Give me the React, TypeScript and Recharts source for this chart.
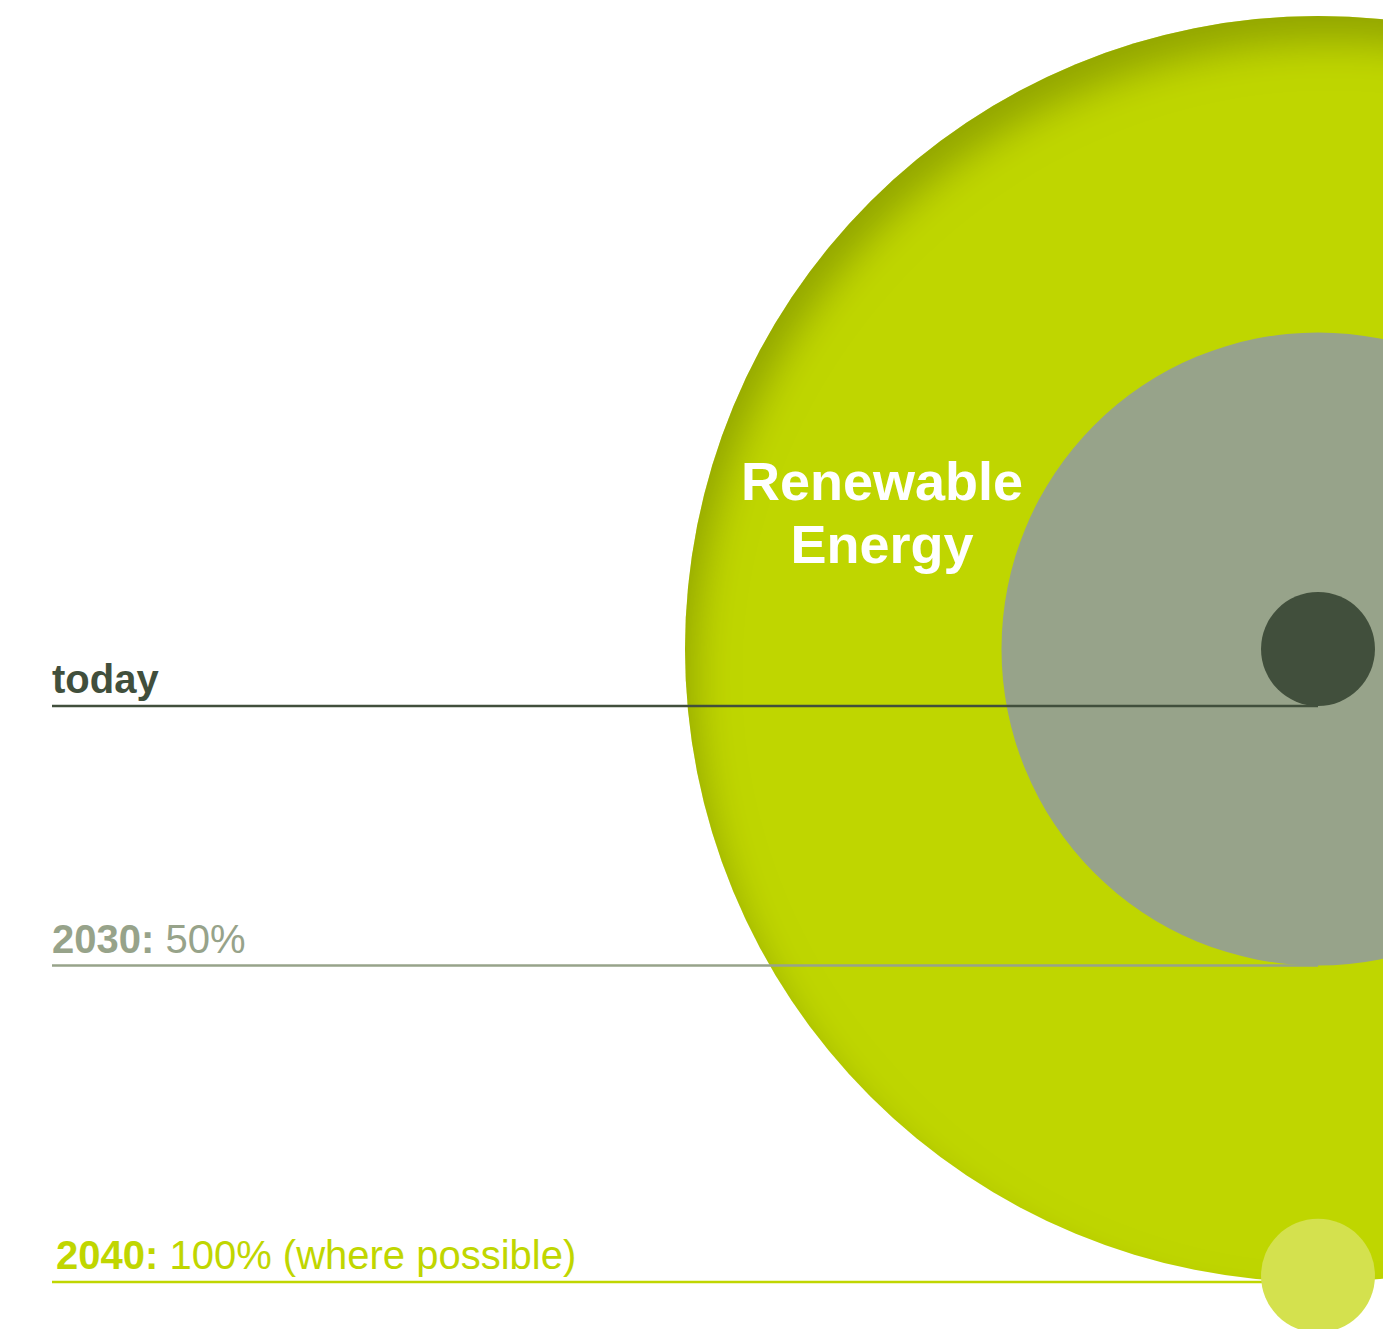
import React from 'react';
import { ComposedChart, Scatter, Line, XAxis, YAxis, ZAxis, LabelList } from 'recharts';

// ---- data ----
const milestones = ['today', '2030', '2040'];
const milestoneBold = ['today', '2030:', '2040:'];
const milestoneRest = ['', ' 50%', ' 100% (where possible)'];
const milestoneShare = [9, 50, 100]; // renewable share (radius of circle, %)
const lineStart = -200; // left end of milestone lines (same units)

const ringNames = ['2040', '2030', 'today'];
const ringShare = [100, 50, 9];
const markerShare = 9;       // small light disc at the 2040 level
const markerLevel = 99;

const titleLines = ['Renewable', 'Energy'];

// ---- styles ----
const FONT = 'Liberation Sans, Arial, Helvetica, sans-serif';
const ringColors = ['#bfd600', '#97a38a', '#414f3c'];
const lineColors = ['#414f3c', '#97a38a', '#c0d600'];
const markerColor = '#d4e14e';
const labelDx = [0, 0, 4];

const CHART_W = 1951;
const CHART_H = 1329;
const MARGIN = { top: 16, right: 0, bottom: 47, left: 52 };
const PLOT_H = CHART_H - MARGIN.top - MARGIN.bottom;
const PX_PER_UNIT = PLOT_H / 200;

const ringData = ringShare.map((r, i) => ({ name: ringNames[i], x: 0, y: 0, r, fill: ringColors[i], shadow: i === 0, title: i === 0 }));
const markerData = [{ name: 'marker', x: 0, y: markerLevel, r: markerShare, fill: markerColor }];
const lineData = milestoneShare.map((v) => [
  { x: lineStart, y: v },
  { x: 0, y: v },
]);

const CircleShape = (props: any) => {
  const { cx, cy, size, payload } = props;
  const r = typeof size === 'number' && size > 0 ? size : payload.r * PX_PER_UNIT;
  return (
    <g>
      {payload.shadow && (
        <defs>
          <filter id="innerShadow" x="-10%" y="-10%" width="120%" height="120%" filterUnits="objectBoundingBox">
            <feOffset in="SourceAlpha" dx="11" dy="28" result="off" />
            <feGaussianBlur in="off" stdDeviation="19" result="blur" />
            <feComposite in="SourceAlpha" in2="blur" operator="out" result="inverse" />
            <feFlood floodColor="#6c7d00" floodOpacity="0.62" result="col" />
            <feComposite in="col" in2="inverse" operator="in" result="shadow" />
            <feMerge>
              <feMergeNode in="SourceGraphic" />
              <feMergeNode in="shadow" />
            </feMerge>
          </filter>
        </defs>
      )}
      <circle cx={cx} cy={cy} r={r} fill={payload.fill} filter={payload.shadow ? 'url(#innerShadow)' : undefined} />
      {payload.title && (
        <text textAnchor="middle" fill="#ffffff" fontFamily={FONT} fontWeight="bold" fontSize={54}>
          {titleLines.map((t, i) => (
            <tspan key={t} x={cx - 436} y={cy - 149 + i * 63}>{t}</tspan>
          ))}
        </text>
      )}
    </g>
  );
};

const makeLabel = (i: number) => (p: any) => {
  if (p.index !== 0) return null;
  return (
    <text x={p.x + labelDx[i]} y={p.y - 13} fill={lineColors[i]} fontFamily={FONT} fontSize={40}>
      <tspan fontWeight="bold">{milestoneBold[i]}</tspan>
      {milestoneRest[i] && <tspan fontWeight="normal">{milestoneRest[i]}</tspan>}
    </text>
  );
};

export default function App() {
  return (
    <div style={{ position: 'fixed', left: 0, top: 0, width: 1383, height: 1329, overflow: 'hidden', background: '#ffffff' }}>
      <ComposedChart width={CHART_W} height={CHART_H} margin={MARGIN}>
        <XAxis type="number" dataKey="x" domain={[lineStart, 100]} hide />
        <YAxis type="number" dataKey="y" domain={[-100, 100]} reversed hide />
        <ZAxis type="number" dataKey="r" domain={[0, 100]} range={[0, 100 * PX_PER_UNIT]} />
        <Scatter data={ringData} shape={CircleShape} isAnimationActive={false} zIndex={100} />
        {lineData.map((d, i) => (
          <Line
            key={milestones[i]}
            data={d}
            dataKey="y"
            type="linear"
            stroke={lineColors[i]}
            strokeWidth={2.5}
            dot={false}
            activeDot={false}
            isAnimationActive={false}
            zIndex={200}
          >
            <LabelList dataKey="y" content={makeLabel(i)} />
          </Line>
        ))}
        <Scatter data={markerData} shape={CircleShape} isAnimationActive={false} zIndex={300} />
      </ComposedChart>
    </div>
  );
}
